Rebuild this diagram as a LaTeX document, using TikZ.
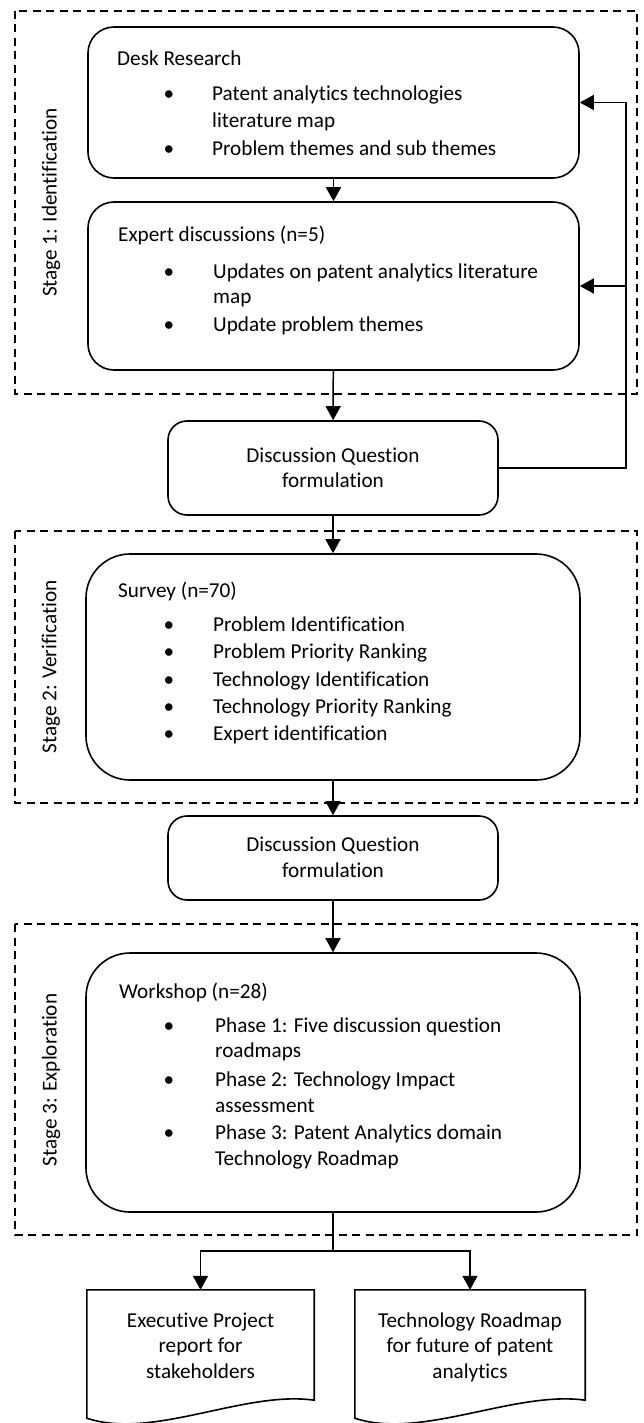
\documentclass[tikz,border=0pt]{standalone}
\usepackage{fontspec}
\setmainfont{Carlito}[Ligatures=NoCommon]
\usetikzlibrary{arrows.meta}

\tikzset{
    stagebox/.style={draw, line width=1.5pt, dash pattern=on 8pt off 5.5pt},
    procbox/.style={draw, line width=1.6pt, rounded corners=#1, inner sep=0pt},
    procbox/.default=26pt,
    docbox/.style={inner sep=0pt},
    docline/.style={line width=1.6pt},
    txt/.style={anchor=base west, inner sep=0pt, font=\fontsize{21.2}{25}\selectfont},
    ctr/.style={anchor=base, inner sep=0pt, font=\fontsize{21.2}{25}\selectfont},
    stagelabel/.style={rotate=90, inner sep=0pt, font=\fontsize{21.2}{25}\selectfont},
    arr/.style={line width=1.5pt, -{Triangle[length=14pt,width=15pt]}},
    link/.style={line width=1.5pt}
}

\begin{document}
\begin{tikzpicture}[x=1pt, y=-1pt]
    \useasboundingbox (0,0) rectangle (643,1423);

    % Stage 1
    \draw[stagebox] (15,11) rectangle (637,394);
    \node[stagelabel] (s1) at (51,202.5) {Stage 1: Identification};

    \node[procbox, minimum width=491pt, minimum height=151pt] (desk) at (333.5,102.5) {};
    \node[txt] (desk-t) at (117,66) {Desk Research};
    \foreach \y/\b/\val in {
        101/1/Patent analytics technologies,
        128/0/literature map,
        156/1/Problem themes and sub themes} {
        \ifnum\b=1 \node[ctr] (desk-b\y) at (169,\y) {\textbullet}; \fi
        \node[txt] (desk-\y) at (212,\y) {\val};
    }

    \node[procbox, minimum width=491pt, minimum height=168pt] (expert) at (333.5,286) {};
    \node[txt] (expert-t) at (118,242) {Expert discussions (n=5)};
    \foreach \y/\b/\val in {
        278/1/Updates on patent analytics literature,
        303/0/map,
        331/1/Update problem themes} {
        \ifnum\b=1 \node[ctr] (expert-b\y) at (169,\y) {\textbullet}; \fi
        \node[txt] (expert-\y) at (213,\y) {\val};
    }

    % Discussion questions 1
    \node[procbox=19pt, minimum width=330pt, minimum height=94pt] (dq1) at (333,468) {};
    \node[ctr] (dq1-a) at (333,462) {Discussion Question};
    \node[ctr] (dq1-b) at (333,487) {formulation};

    % Stage 2
    \draw[stagebox] (15,531) rectangle (637,803);
    \node[stagelabel] (s2) at (51,667) {Stage 2: Verification};

    \node[procbox=44pt, minimum width=494pt, minimum height=226pt] (survey) at (333,667) {};
    \node[txt] (survey-t) at (118,597) {Survey (n=70)};
    \foreach \y/\val in {
        631/Problem Identification,
        658/Problem Priority Ranking,
        686/Technology Identification,
        713/Technology Priority Ranking,
        740/Expert identification} {
        \node[ctr] (survey-b\y) at (169,\y) {\textbullet};
        \node[txt] (survey-\y) at (213,\y) {\val};
    }

    % Discussion questions 2
    \node[procbox=19pt, minimum width=330pt, minimum height=84pt] (dq2) at (333,858) {};
    \node[ctr] (dq2-a) at (333,851) {Discussion Question};
    \node[ctr] (dq2-b) at (333,877) {formulation};

    % Stage 3
    \draw[stagebox] (15,924) rectangle (637,1235);
    \node[stagelabel] (s3) at (51,1080) {Stage 3: Exploration};

    \node[procbox=44pt, minimum width=494pt, minimum height=259pt] (work) at (333,1082.5) {};
    \node[txt] (work-t) at (119,998) {Workshop (n=28)};
    \foreach \y/\b/\val in {
        1032/1/Phase 1: Five discussion question,
        1057/0/roadmaps,
        1086/1/Phase 2: Technology Impact,
        1112/0/assessment,
        1139/1/Phase 3: Patent Analytics domain,
        1165/0/Technology Roadmap} {
        \ifnum\b=1 \node[ctr] (work-b\y) at (169,\y) {\textbullet}; \fi
        \node[txt] (work-\y) at (215,\y) {\val};
    }

    % Outputs
    \node[docbox, minimum width=227pt, minimum height=110pt] (doc1) at (200.5,1345) {};
    \node[docbox, minimum width=230pt, minimum height=110pt] (doc2) at (470,1345) {};
    \foreach \d in {doc1, doc2} {
        \draw[docline] ([yshift=-18pt]\d.south west) -- (\d.north west) -- (\d.north east)
            -- (\d.south east)
            .. controls ([shift={(-70pt,10pt)}]\d.south east) and ([shift={(66pt,-40pt)}]\d.south west)
            .. ([yshift=-18pt]\d.south west) -- cycle;
    }
    \foreach \y/\val in {1327/Executive Project, 1352/report for, 1378/stakeholders} {
        \node[ctr] (doc1-\y) at (200.5,\y) {\val};
    }
    \foreach \y/\val in {1327/Technology Roadmap, 1352/for future of patent, 1378/analytics} {
        \node[ctr] (doc2-\y) at (470,\y) {\val};
    }

    % Connectors
    \draw[arr] (desk) -- (expert);
    \draw[arr] (expert) -- (dq1);
    \draw[arr] (dq1) -- (survey);
    \draw[arr] (survey) -- (dq2);
    \draw[arr] (dq2) -- (work);

    \coordinate (fb) at (626,0);
    \draw[arr] (dq1.east) -| (fb |- desk.east) -- (desk.east);
    \draw[arr] (fb |- expert.east) -- (expert.east);

    \coordinate (split) at (333,1251);
    \draw[link] (work.south) -- (split);
    \draw[arr] (split) -| (doc1.north);
    \draw[arr] (split) -| (doc2.north);
\end{tikzpicture}
\end{document}
